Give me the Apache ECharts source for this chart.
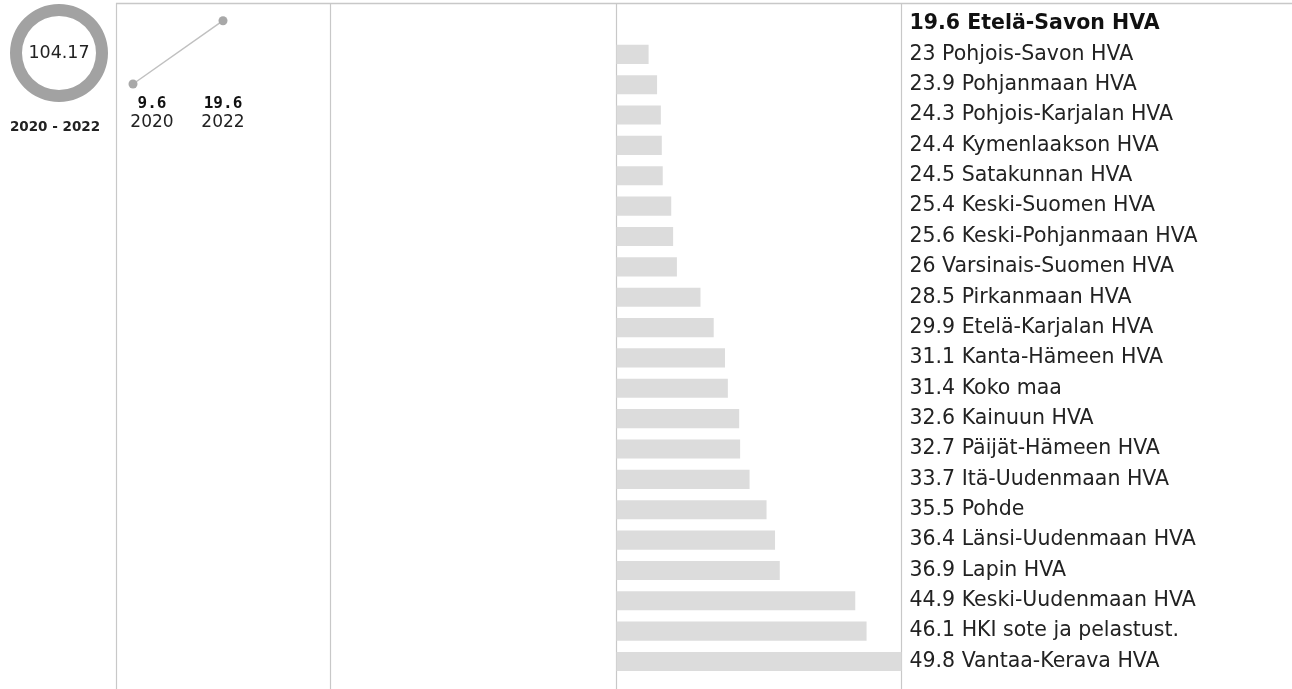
<!DOCTYPE html>
<html>
<head>
<meta charset="utf-8">
<script src="https://cdn.jsdelivr.net/npm/echarts@6/dist/echarts.min.js"></script>
<style>
html,body{margin:0;padding:0;background:#fff;}
#chart{width:1292px;height:689px;}
</style>
</head>
<body>
<div id="chart"></div>
<script>
// ---- data ----
const ringValue = 104.17;
const ringPeriod = '2020 - 2022';
const slopeYears = ['2020', '2022'];
const slopeValues = [9.6, 19.6];
const regionNames = ['Etelä-Savon HVA','Pohjois-Savon HVA','Pohjanmaan HVA','Pohjois-Karjalan HVA','Kymenlaakson HVA','Satakunnan HVA','Keski-Suomen HVA','Keski-Pohjanmaan HVA','Varsinais-Suomen HVA','Pirkanmaan HVA','Etelä-Karjalan HVA','Kanta-Hämeen HVA','Koko maa','Kainuun HVA','Päijät-Hämeen HVA','Itä-Uudenmaan HVA','Pohde','Länsi-Uudenmaan HVA','Lapin HVA','Keski-Uudenmaan HVA','HKI sote ja pelastust.','Vantaa-Kerava HVA'];
const regionValues = [19.6,23,23.9,24.3,24.4,24.5,25.4,25.6,26,28.5,29.9,31.1,31.4,32.6,32.7,33.7,35.5,36.4,36.9,44.9,46.1,49.8];
const highlightIndex = 0;

const chart = echarts.init(document.getElementById('chart'), null, {renderer:'canvas'});
const W = 1292, H = 689;
const lineColor = '#c8c8c8';
const frameX = [116.5, 330.5, 616.5, 901.5];
const graphics = frameX.map(x => ({type:'line', shape:{x1:x,y1:3,x2:x,y2:H}, style:{stroke:lineColor, lineWidth:1.2}, silent:true}));
graphics.push({type:'line', shape:{x1:116,y1:3.5,x2:W,y2:3.5}, style:{stroke:lineColor, lineWidth:1.5}, silent:true});

const fam = '"DejaVu Sans", sans-serif';

chart.setOption({
  animation:false,
  backgroundColor:'#fff',
  title:{text:ringPeriod, left:50, top:115, textAlign:'center',
    textStyle:{fontFamily:fam, fontSize:13.5, fontWeight:'bold', color:'#222'}},
  graphic: graphics,
  grid:[
    {left:133, top:20.7, width:90, height:63.3, containLabel:false},
    {left:616.5, top:8.8, right:W-901.5, bottom:H-676.7, containLabel:false}
  ],
  xAxis:[
    {gridIndex:0, type:'category', boundaryGap:false,
      data:slopeYears.map((y,i)=>({value:y, textStyle: i===0 ? {padding:[0,0,0,38]} : {}})),
      axisLine:{show:false}, axisTick:{show:false}, splitLine:{show:false},
      axisLabel:{margin:10, interval:0,
        formatter:(v,i)=>'{b|'+slopeValues[i]+'}\n{n|'+v+'}',
        rich:{
          b:{fontFamily:'"DejaVu Sans Mono", monospace', fontWeight:'bold', fontSize:16, color:'#111', lineHeight:19, align:'center'},
          n:{fontFamily:fam, fontSize:17, color:'#222', lineHeight:20, align:'center'}
        }}},
    {gridIndex:1, type:'value', min:regionValues[0], max:49.8,
      axisLine:{show:false}, axisTick:{show:false}, splitLine:{show:false}, axisLabel:{show:false}}
  ],
  yAxis:[
    {gridIndex:0, type:'value', min:9.6, max:19.6, show:false},
    {gridIndex:1, type:'category', inverse:true, position:'right', data:regionNames,
      axisLine:{show:false}, axisTick:{show:false}, splitLine:{show:false},
      axisLabel:{margin:8, align:'left', interval:0,
        formatter:(v,i)=> (i===highlightIndex ? '{h|' : '{r|') + regionValues[i] + ' ' + v + '}',
        rich:{
          h:{fontFamily:fam, fontSize:20.5, fontWeight:'bold', color:'#111'},
          r:{fontFamily:fam, fontSize:20.5, color:'#222'}
        }}}
  ],
  series:[
    {type:'pie', center:[59,53], radius:[37,49], silent:true, clockwise:true,
      label:{show:true, position:'center', formatter:()=>String(ringValue),
        fontFamily:fam, fontSize:17.5, color:'#222'},
      labelLine:{show:false},
      itemStyle:{color:'#a2a2a2'},
      data:[{value:ringValue, name:'ring'}]},
    {type:'line', xAxisIndex:0, yAxisIndex:0, data:slopeValues,
      symbol:'circle', symbolSize:9,
      itemStyle:{color:'#a8a8a8'}, lineStyle:{color:'#c0c0c0', width:1.5}},
    {type:'bar', xAxisIndex:1, yAxisIndex:1, data:regionValues,
      barCategoryGap:'37%', itemStyle:{color:'#dcdcdc'}, silent:true}
  ]
});
</script>
</body>
</html>
